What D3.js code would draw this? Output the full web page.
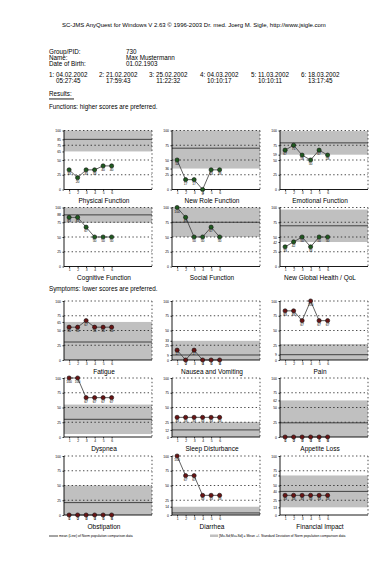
<!DOCTYPE html>
<html lang="en">
<head>
<meta charset="UTF-8">
<title>SC-JMS AnyQuest results</title>
<script src="https://d3js.org/d3.v7.min.js"></script>
<style>
  body { margin: 0; background: #fff; }
  svg { display: block; font-family: "Liberation Sans", Arial, sans-serif; }
  .txt { font-size: 6.3px; fill: #000; }
  .title { font-size: 6.5px; fill: #000; text-anchor: middle; }
  .tiny { font-size: 3.4px; fill: #000; }
  .dot-line { stroke: #000; stroke-width: 0.7; stroke-dasharray: 1.4,2.4; fill: none; }
  .axis path, .axis line { stroke: #000; stroke-width: 0.8; }
  .axis text { font-size: 3.4px; font-family: "Liberation Sans", Arial, sans-serif; }
</style>
</head>
<body>
<script>
// header info
const headerLine = "SC-JMS AnyQuest for Windows V 2.63 \u00a9 1996-2003 Dr. med. Joerg M. Sigle, http://www.jsigle.com";
const personLabels = ["Group/PID:", "Name:", "Date of Birth:"];
const personValues = ["730", "Max Mustermann", "01.02.1903"];
const visitDates = ["1: 04.02.2002", "2: 21.02.2002", "3: 25.02.2002", "4: 04.03.2002", "5: 11.03.2002", "6: 18.03.2002"];
const visitTimes = ["05:27:45", "17:59:43", "11:22:32", "10:10:17", "10:10:11", "13:17:45"];
const visits = [1, 2, 3, 4, 5, 6];

// functions: higher scores are preferred
const fnTitles = ["Physical Function", "New Role Function", "Emotional Function",
  "Cognitive Function", "Social Function", "New Global Health / QoL"];
const fnValues = [
  [33.3, 20, 33.3, 33.3, 40, 40],
  [50, 16.7, 16.7, 0, 33.3, 33.3],
  [66.7, 75, 58.3, 50, 66.7, 58.3],
  [83.3, 83.3, 66.7, 50, 50, 50],
  [100, 83.3, 50, 50, 66.7, 50],
  [33.3, 41.7, 50, 33.3, 50, 50]
];
const fnNormMean = [85, 70, 79, 87.5, 75, 69];
const fnNormSd = [20.5, 34.5, 20, 13.5, 25, 27.5];

// symptoms: lower scores are preferred
const symTitles = ["Fatigue", "Nausea and Vomiting", "Pain",
  "Dyspnea", "Sleep Disturbance", "Appetite Loss",
  "Obstipation", "Diarrhea", "Financial Impact"];
const symValues = [
  [55.6, 55.6, 66.7, 55.6, 55.6, 55.6],
  [16.7, 0, 16.7, 0, 0, 0],
  [83.3, 83.3, 66.7, 100, 66.7, 66.7],
  [100, 100, 66.7, 66.7, 66.7, 66.7],
  [33.3, 33.3, 33.3, 33.3, 33.3, 33.3],
  [0, 0, 0, 0, 0, 0],
  [0, 0, 0, 0, 0, 0],
  [100, 66.7, 66.7, 33.3, 33.3, 33.3],
  [33.3, 33.3, 33.3, 33.3, 33.3, 33.3]
];
const symNormMean = [30.5, 8.5, 9, 30, 12, 24, 21, 3.5, 40];
const symNormSd = [34, 24, 18, 25, 13.5, 38, 29, 10.5, 27];

const yTicks = [0, 25, 50, 75, 100];

const width = 392, height = 564;
const left = 49;
const colX = [64, 172, 280];
const plotW = 88, plotH = 59;
const rowY = [130.5, 207.5, 301, 378, 456];

const svg = d3.select("body").append("svg")
  .attr("width", width).attr("height", height);

svg.append("text").attr("class", "txt")
  .attr("x", 62).attr("y", 27).style("font-size", "6px")
  .text(headerLine);

personLabels.forEach((t, i) => {
  svg.append("text").attr("class", "txt").attr("x", left).attr("y", 53.5 + i * 6).text(t);
  svg.append("text").attr("class", "txt").attr("x", 126).attr("y", 53.5 + i * 6).text(personValues[i]);
});

const visitX = [49, 99, 149, 200, 251, 301];
visitDates.forEach((t, i) => {
  const a = svg.append("text").attr("class", "txt").attr("x", visitX[i]).attr("y", 77).text(t);
  const w = a.node().getComputedTextLength();
  svg.append("text").attr("class", "txt").attr("x", visitX[i] + w / 2).attr("y", 83)
    .attr("text-anchor", "middle").text(visitTimes[i]);
});

svg.append("text").attr("class", "txt").attr("x", left).attr("y", 96).text("Results:");
svg.append("rect").attr("x", left).attr("y", 98.3).attr("width", 25).attr("height", 1.3).attr("fill", "#555");
svg.append("text").attr("class", "txt").attr("x", left).attr("y", 109)
  .text("Functions: higher scores are preferred.");
svg.append("text").attr("class", "txt").attr("x", left).attr("y", 291)
  .text("Symptoms: lower scores are preferred.");

const x = d3.scaleLinear().domain([0.4, 10.75]).range([0, plotW]);
const y = d3.scaleLinear().domain([0, 100]).range([plotH, 0]);

function panel(px, py, title, values, mean, sd, color) {
  const g = svg.append("g").attr("transform", `translate(${px},${py})`);
  const lo = Math.max(0, mean - sd), hi = Math.min(100, mean + sd);

  g.append("rect").attr("x", 0).attr("width", plotW)
    .attr("y", y(hi)).attr("height", y(lo) - y(hi)).attr("fill", "#c0c0c0");

  // dotted grid and frame
  g.selectAll(".grid").data([25, 50, 75, 100]).join("line")
    .attr("class", "dot-line")
    .attr("x1", 0).attr("x2", plotW).attr("y1", d => y(d)).attr("y2", d => y(d));
  g.append("line").attr("class", "dot-line")
    .attr("x1", plotW).attr("x2", plotW).attr("y1", 0).attr("y2", plotH);

  g.append("line").attr("x1", 0).attr("x2", plotW)
    .attr("y1", y(mean)).attr("y2", y(mean))
    .attr("stroke", "#333").attr("stroke-width", 0.9);

  // norm labels next to the axis, skipped where they would sit on another label
  const ticks = yTicks.slice();
  [mean, mean + sd, mean - sd].forEach(v => {
    if (v > 0 && v < 100 && ticks.every(t => Math.abs(t - v) >= 6.5)) ticks.push(v);
  });
  g.append("g").attr("class", "axis")
    .call(d3.axisLeft(y).tickValues(ticks).tickSize(1.5).tickPadding(1.5)
      .tickFormat(d => Math.round(d)));
  g.append("g").attr("class", "axis").attr("transform", `translate(0,${plotH})`)
    .call(d3.axisBottom(x).tickValues(visits).tickSize(1.5).tickPadding(1).tickFormat(d3.format("d")));
  g.selectAll(".axis .domain").attr("d", null);
  g.append("line").attr("x1", 0).attr("x2", 0).attr("y1", 0).attr("y2", plotH)
    .attr("stroke", "#000").attr("stroke-width", 0.9);
  g.append("line").attr("x1", 0).attr("x2", plotW).attr("y1", plotH).attr("y2", plotH)
    .attr("stroke", "#000").attr("stroke-width", 0.9);

  const pts = values.map((v, i) => ({ v, i: visits[i] }));
  g.append("path").datum(pts)
    .attr("d", d3.line().x(d => x(d.i)).y(d => y(d.v)))
    .attr("fill", "none").attr("stroke", "#3a3a3a").attr("stroke-width", 0.8);

  g.selectAll(".val").data(pts).join("text")
    .attr("class", "tiny")
    .attr("x", d => x(d.i)).attr("y", d => y(d.v) + 5)
    .attr("text-anchor", "middle")
    .text(d => Math.round(d.v));

  g.selectAll(".pt").data(pts).join("circle")
    .attr("cx", d => x(d.i)).attr("cy", d => y(d.v)).attr("r", 2.1)
    .attr("fill", color).attr("stroke", "#111").attr("stroke-width", 0.6);

  g.append("text").attr("class", "title")
    .attr("x", plotW / 2 - 4).attr("y", plotH + 13.5).text(title);
}

fnTitles.forEach((t, k) => {
  panel(colX[k % 3], rowY[Math.floor(k / 3)], t, fnValues[k], fnNormMean[k], fnNormSd[k], "#1f5a1f");
});
symTitles.forEach((t, k) => {
  panel(colX[k % 3], rowY[2 + Math.floor(k / 3)], t, symValues[k], symNormMean[k], symNormSd[k], "#6a1414");
});

// legend
svg.append("line").attr("x1", 49).attr("x2", 58).attr("y1", 536).attr("y2", 536)
  .attr("stroke", "#333").attr("stroke-width", 0.9);
svg.append("text").attr("class", "tiny").attr("x", 59).attr("y", 537)
  .text("mean (Line) of Norm population comparison data");
svg.append("rect").attr("x", 210).attr("y", 534.5).attr("width", 8).attr("height", 2.5).attr("fill", "#c0c0c0");
svg.append("text").attr("class", "tiny").attr("x", 219).attr("y", 537)
  .text("[Mu-Sd;Mu+Sd] = Mean +/- Standard Deviation of Norm population comparison data");
</script>
</body>
</html>
